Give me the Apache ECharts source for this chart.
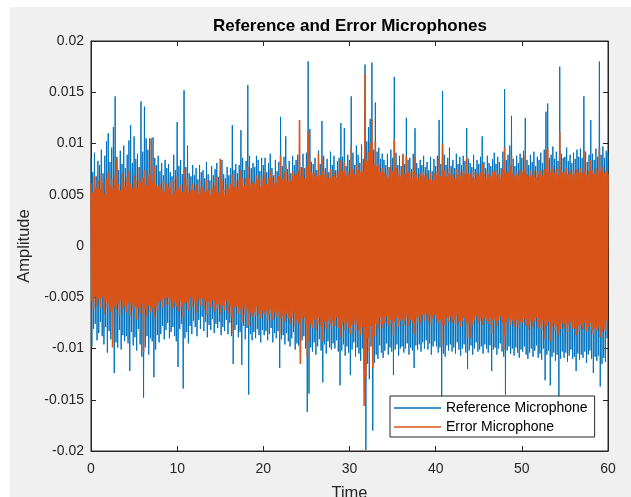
<!DOCTYPE html>
<html>
<head>
<meta charset="utf-8">
<script src="https://cdn.jsdelivr.net/npm/echarts@6/dist/echarts.min.js"></script>
<style>
  html, body { margin: 0; padding: 0; background: #ffffff; }
  #chart { width: 631px; height: 497px; }
</style>
</head>
<body>
<div id="chart"></div>
<script>
// Sample spacing of both recordings, in seconds
const TIME_STEP = 0.1;

// Microphone amplitudes, stored in thousandths (x 1e-3), one row per second
const referenceMic = [
  8.6,-9.8,7.2,-8.1,9.1,-7.6,6.8,-9.2,8.3,-8.5,
  7.9,-7.4,9.4,-8.8,7.1,-9.6,8.8,-7.9,10.2,-10.4,
  11.0,-8.3,8.2,-9.1,9.6,-8.6,11.6,-12.4,14.6,-9.4,
  8.7,-9.9,7.4,-8.2,9.3,-10.1,8.0,-8.7,9.8,-9.3,
  7.6,-8.8,8.9,-9.5,10.3,-12.2,11.8,-8.4,8.1,-9.7,
  10.7,-8.9,8.5,-10.2,9.0,-8.1,7.7,-9.6,14.1,-10.8,
  9.2,-14.8,13.6,-9.9,10.5,-8.8,9.4,-10.6,10.5,-9.0,
  10.4,-9.3,10.6,-12.8,8.6,-10.1,7.9,-8.7,8.8,-9.4,
  7.3,-8.6,8.1,-7.8,6.9,-9.1,8.4,-8.2,7.6,-7.5,
  8.0,-9.0,7.2,-8.4,6.8,-7.9,8.9,-8.8,7.4,-9.3,
  12.1,-11.8,7.8,-8.1,8.4,-7.6,7.0,-13.9,15.2,-9.0,
  7.7,-8.4,9.8,-9.5,7.1,-7.8,6.8,-8.6,7.9,-7.3,
  6.9,-7.9,7.6,-8.8,6.5,-7.2,7.9,-8.1,7.2,-6.9,
  7.4,-8.3,6.6,-7.4,8.2,-8.9,7.0,-7.7,6.4,-8.2,
  7.8,-7.1,6.9,-8.5,7.5,-7.6,8.1,-8.0,6.7,-7.4,
  7.2,-8.7,8.4,-7.9,7.0,-8.3,6.6,-7.2,7.7,-8.6,
  6.9,-7.5,7.6,-8.8,11.8,-11.5,7.4,-8.2,8.0,-7.7,
  7.1,-8.9,7.9,-8.4,11.3,-11.6,8.6,-7.8,7.4,-9.1,
  8.3,-8.0,15.7,-14.5,8.8,-8.6,7.6,-9.2,8.1,-8.4,
  7.7,-9.0,8.8,-8.1,8.4,-8.7,7.3,-9.4,8.6,-8.2,
  7.9,-8.7,8.6,-8.3,7.2,-9.2,8.1,-8.6,9.0,-8.0,
  7.6,-9.4,6.9,-8.5,8.4,-9.0,7.3,-8.3,8.2,-11.9,
  12.6,-9.1,7.8,-8.7,8.7,-9.6,10.7,-8.5,7.5,-9.3,
  8.3,-9.8,7.1,-9.0,8.8,-8.4,7.9,-10.1,8.4,-9.5,
  8.9,-9.7,9.5,-10.4,7.7,-9.2,9.0,-8.8,7.6,-10.0,
  9.1,-16.2,18.0,-14.4,11.4,-9.9,8.2,-10.3,8.0,-9.4,
  8.6,-10.6,7.4,-9.8,9.3,-9.1,8.0,-10.2,12.2,-13.3,
  8.8,-9.6,7.6,-10.5,8.5,-9.3,7.2,-9.9,9.2,-10.1,
  7.9,-9.5,8.8,-10.0,7.4,-9.2,8.3,-10.3,8.6,-13.6,
  12.0,-10.2,8.7,-9.6,11.5,-10.7,7.8,-9.8,8.9,-10.4,
  8.4,-12.6,14.6,-10.1,9.1,-9.4,7.9,-10.8,9.8,-9.9,
  8.9,-10.5,8.1,-11.2,9.9,-10.0,8.5,-12.1,17.7,-19.9,
  10.2,-11.5,11.6,-13.0,12.4,-9.8,17.9,-18.0,9.4,-11.4,
  14.0,-10.6,9.2,-11.0,9.6,-9.7,8.5,-10.4,9.0,-10.9,
  8.4,-10.2,7.9,-9.5,9.0,-10.6,7.7,-9.9,9.4,-10.3,
  8.6,-12.6,16.5,-10.1,9.1,-9.6,7.9,-10.7,8.8,-10.0,
  7.8,-9.8,8.9,-10.4,8.0,-10.0,12.5,-9.5,8.4,-10.6,
  8.6,-9.9,7.5,-10.2,9.0,-11.9,11.5,-9.7,8.1,-10.1,
  7.6,-9.6,8.4,-10.3,7.9,-9.4,8.8,-10.0,7.7,-9.2,
  8.2,-10.1,7.4,-9.5,8.7,-10.6,7.3,-9.8,8.5,-9.3,
  7.8,-9.8,8.8,-10.4,12.3,-9.9,8.0,-14.7,15.1,-10.5,
  8.9,-10.8,7.9,-9.7,8.6,-10.2,9.6,-9.6,7.8,-10.3,
  8.4,-9.9,7.6,-10.5,9.0,-9.4,8.0,-10.1,8.7,-10.7,
  7.9,-10.0,8.8,-9.6,8.3,-10.4,11.5,-12.0,8.5,-10.2,
  8.1,-9.7,7.7,-10.6,8.9,-10.0,7.5,-9.4,8.4,-10.3,
  8.0,-10.1,8.7,-9.8,10.7,-10.5,8.2,-9.6,7.6,-10.0,
  8.8,-10.4,8.1,-9.7,7.8,-12.2,8.5,-10.1,9.1,-9.9,
  8.0,-10.6,8.7,-10.0,8.2,-9.5,7.6,-10.3,9.2,-10.8,
  15.3,-14.5,8.4,-10.2,8.9,-9.8,9.8,-10.5,12.7,-10.0,
  8.5,-10.7,7.8,-9.9,8.8,-10.4,8.1,-10.9,9.0,-10.1,
  8.6,-10.3,9.3,-9.8,12.5,-10.6,8.4,-11.0,7.9,-10.4,
  8.9,-10.0,8.2,-10.8,9.2,-10.2,7.8,-9.7,8.7,-10.9,
  8.4,-10.5,9.1,-11.1,8.1,-10.0,9.4,-13.1,13.1,-10.6,
  13.9,-10.2,8.6,-13.6,8.9,-10.8,9.7,-10.4,8.5,-11.2,
  9.2,-10.6,8.3,-14.8,17.5,-11.0,9.0,-10.3,8.6,-10.9,
  8.7,-10.4,9.6,-11.3,8.3,-10.7,8.9,-10.1,8.1,-11.0,
  9.1,-10.8,8.5,-12.2,9.4,-10.5,8.7,-11.1,9.5,-10.6,
  8.6,-10.9,14.6,-10.3,9.2,-11.4,8.2,-10.6,8.9,-10.2,
  12.3,-11.0,9.0,-12.4,8.4,-10.8,9.5,-11.2,8.7,-10.7,
  18.0,-13.7,8.9,-11.5,9.7,-10.9,8.6,-11.3,9.3,-9.0,
  9.1
];

const errorMic = [
  6.1,-5.4,5.2,-6.3,6.8,-4.9,5.7,-5.8,6.4,-5.2,
  5.5,-6.1,7.0,-5.0,6.2,-6.6,5.1,-5.5,6.6,-6.0,
  7.2,-5.7,5.9,-6.4,6.5,-9.9,5.6,-5.9,6.9,-6.2,
  8.5,-5.6,6.0,-6.8,5.4,-5.3,7.1,-6.1,6.3,-5.8,
  5.8,-6.5,6.7,-5.5,7.3,-6.9,6.1,-5.7,5.6,-6.3,
  6.9,-5.9,6.4,-7.2,5.7,-6.0,7.6,-6.6,6.2,-5.6,
  6.6,-10.4,7.4,-6.2,5.9,-6.8,6.8,-5.8,7.0,-6.5,
  10.5,-6.1,6.3,-7.0,7.8,-5.9,6.0,-6.4,5.8,-5.5,
  6.0,-5.3,5.5,-6.0,6.4,-5.1,5.2,-5.7,6.1,-5.0,
  5.7,-5.8,6.2,-5.2,5.0,-6.1,6.5,-5.5,5.4,-5.9,
  6.8,-6.4,5.6,-5.4,6.0,-5.9,5.3,-7.0,7.5,-5.6,
  5.9,-5.5,6.6,-6.3,5.2,-5.0,5.5,-6.0,6.1,-5.3,
  5.4,-5.6,6.0,-6.5,5.1,-5.2,6.3,-5.8,5.6,-5.1,
  5.8,-6.2,5.3,-5.4,6.5,-6.7,5.5,-5.5,5.0,-6.0,
  6.2,-5.3,5.6,-6.4,5.9,-5.7,6.7,-6.1,5.2,-5.6,
  8.5,-6.6,6.4,-5.8,5.5,-6.3,5.1,-5.4,6.0,-6.5,
  5.6,-5.7,6.1,-6.9,7.0,-8.5,5.8,-6.0,6.4,-5.9,
  5.7,-6.6,6.5,-6.2,7.4,-7.5,6.6,-5.8,5.9,-6.7,
  6.6,-6.1,7.8,-7.8,6.7,-6.5,6.0,-6.9,6.3,-6.4,
  6.1,-6.8,6.9,-6.0,6.5,-6.6,5.8,-7.1,6.8,-6.3,
  6.4,-6.7,7.1,-6.4,6.0,-7.3,6.6,-6.6,7.4,-6.2,
  6.7,-7.2,6.1,-6.5,7.0,-6.9,6.2,-6.4,6.8,-8.6,
  8.8,-7.0,6.5,-6.8,7.2,-7.4,7.9,-6.6,6.3,-7.1,
  7.0,-7.6,6.4,-7.0,7.3,-6.5,6.9,-7.8,7.1,-7.3,
  7.4,-7.5,12.3,-11.5,6.8,-7.1,7.6,-6.9,6.6,-7.7,
  7.7,-10.8,11.2,-9.4,8.3,-7.6,7.2,-8.0,7.0,-7.2,
  7.2,-8.2,6.8,-7.6,9.0,-7.0,6.9,-7.9,8.6,-9.3,
  7.3,-7.4,6.9,-8.1,7.1,-7.2,6.6,-7.6,7.5,-7.9,
  6.8,-7.3,7.2,-7.8,6.7,-7.0,7.0,-8.0,7.4,-8.9,
  8.4,-7.8,7.3,-7.4,8.2,-8.3,6.9,-7.5,7.3,-8.0,
  7.1,-8.6,9.6,-7.7,7.5,-7.3,7.0,-8.4,7.9,-7.6,
  7.4,-8.2,7.2,-8.7,8.1,-7.9,7.3,-15.6,16.8,-12.8,
  8.3,-9.0,9.2,-10.3,10.1,-7.8,12.4,-11.9,7.9,-8.8,
  10.2,-7.6,7.7,-8.1,8.0,-7.0,7.2,-7.7,7.6,-8.0,
  7.1,-7.5,6.9,-6.9,7.5,-7.8,6.7,-7.2,7.8,-7.6,
  7.3,-8.7,10.4,-7.4,7.6,-7.0,6.9,-7.9,7.4,-7.3,
  6.8,-7.1,9.0,-7.7,7.0,-7.3,8.8,-6.9,7.2,-7.8,
  7.2,-7.2,6.7,-7.5,7.4,-8.6,8.6,-7.0,7.0,-7.4,
  6.6,-6.9,7.1,-7.6,6.9,-6.7,7.3,-7.3,6.8,-6.6,
  7.0,-7.4,6.5,-6.8,7.2,-7.7,6.4,-7.1,7.1,-6.7,
  6.9,-7.1,7.3,-7.5,8.7,-7.2,6.8,-9.8,9.9,-7.7,
  7.4,-7.8,6.8,-7.0,7.1,-7.4,7.6,-6.9,6.9,-7.5,
  7.0,-7.2,6.6,-7.7,7.5,-6.8,6.9,-7.4,7.2,-7.9,
  6.8,-7.3,7.4,-7.0,7.0,-7.6,8.6,-8.9,7.1,-7.4,
  7.0,-9.0,6.7,-7.7,7.3,-7.2,6.6,-6.8,7.1,-7.5,
  6.9,-7.3,7.2,-7.1,8.0,-7.7,7.0,-7.0,6.7,-7.3,
  7.3,-7.6,7.0,-7.0,6.8,-8.6,7.2,-7.3,7.4,-7.2,
  6.9,-7.8,7.2,-7.3,7.0,-6.9,6.7,-7.5,7.5,-10.1,
  9.6,-8.7,7.1,-7.4,7.3,-7.1,7.8,-7.7,8.8,-7.3,
  7.1,-7.9,6.8,-7.2,7.2,-7.6,6.9,-8.0,7.4,-7.4,
  7.2,-7.5,7.5,-7.1,8.9,-7.8,7.0,-8.1,6.8,-7.6,
  7.3,-7.3,6.9,-7.9,7.4,-7.4,6.7,-7.0,7.2,-8.0,
  7.0,-7.7,7.4,-8.2,6.9,-7.3,7.5,-9.1,9.4,-7.8,
  9.5,-7.4,7.2,-9.3,7.3,-7.9,7.7,-7.6,7.1,-8.3,
  7.5,-7.8,6.9,-8.7,11.2,-8.1,7.4,-7.5,7.2,-8.0,
  7.2,-7.6,7.6,-8.4,7.0,-7.8,7.3,-7.4,6.9,-8.1,
  7.4,-8.0,7.1,-8.7,7.5,-7.7,7.2,-8.2,7.6,-7.8,
  7.1,-8.1,9.3,-7.5,7.4,-8.4,6.9,-7.9,7.3,-7.5,
  8.4,-8.2,7.4,-8.6,7.0,-8.0,7.6,-8.3,7.2,-7.9,
  9.6,-8.9,7.3,-8.4,7.7,-8.1,7.1,-8.3,7.4,-7.3,
  7.0
];

const seriesNames = ['Reference Microphone', 'Error Microphone'];
const seriesColors = ['#0072BD', '#D95319'];
const yTickLabels = ['-0.02', '-0.015', '-0.01', '-0.005', '0', '0.005', '0.01', '0.015', '0.02'];
const xRange = [0, 60];
const yRange = [-0.02, 0.02];

function toPoints(values) {
  return values.map((v, i) => [Math.round(i * TIME_STEP * 10) / 10, v / 1000]);
}

const AXIS_COLOR = '#262626';
const FONT = '"Liberation Sans", Arial, sans-serif';

const chart = echarts.init(document.getElementById('chart'), null, { renderer: 'canvas' });

const tickCommon = { show: true, inside: true, length: 5, lineStyle: { color: AXIS_COLOR, width: 1 } };
const lineCommon = { show: true, onZero: false, lineStyle: { color: AXIS_COLOR, width: 1 } };

chart.setOption({
  animation: false,
  backgroundColor: 'transparent',
  graphic: [
    {
      type: 'rect', z: -10, silent: true,
      shape: { x: 10, y: 7, width: 621, height: 490 },
      style: { fill: '#f0f0f0' }
    },
    {
      type: 'text', silent: true,
      style: {
        x: 350, y: 26, text: 'Reference and Error Microphones',
        font: 'bold 17px ' + FONT, fill: '#000000',
        textAlign: 'center', textVerticalAlign: 'middle'
      }
    }
  ],
  grid: {
    left: 91, top: 41, width: 517, height: 410,
    containLabel: false, outerBoundsMode: 'none',
    show: true, backgroundColor: '#ffffff', borderColor: AXIS_COLOR, borderWidth: 1
  },
  legend: {
    data: seriesNames,
    orient: 'vertical',
    left: 390, top: 396,
    backgroundColor: '#ffffff',
    borderColor: AXIS_COLOR, borderWidth: 1, borderRadius: 0,
    padding: [3, 7, 1, 4],
    itemWidth: 47, itemHeight: 1.5, itemGap: 1, itemTextGap: 4,
    icon: 'rect',
    textStyle: { fontFamily: FONT, fontSize: 14, lineHeight: 18, color: '#000000' }
  },
  xAxis: [
    {
      type: 'value', min: xRange[0], max: xRange[1], interval: 10,
      name: 'Time', nameLocation: 'middle', nameGap: 34,
      nameTextStyle: { fontFamily: FONT, fontSize: 16.5, color: AXIS_COLOR },
      axisLine: lineCommon, axisTick: tickCommon, splitLine: { show: false },
      axisLabel: { fontFamily: FONT, fontSize: 14, color: AXIS_COLOR, margin: 11 }
    },
    {
      type: 'value', position: 'top', min: xRange[0], max: xRange[1], interval: 10,
      axisLine: lineCommon, axisTick: tickCommon, splitLine: { show: false },
      axisLabel: { show: false }
    }
  ],
  yAxis: [
    {
      type: 'value', min: yRange[0], max: yRange[1], interval: 0.005,
      name: 'Amplitude', nameLocation: 'middle', nameGap: 58, nameRotate: 90,
      nameTextStyle: { fontFamily: FONT, fontSize: 16.5, color: AXIS_COLOR },
      axisLine: lineCommon, axisTick: tickCommon, splitLine: { show: false },
      axisLabel: {
        fontFamily: FONT, fontSize: 14, color: AXIS_COLOR, margin: 7,
        formatter: v => yTickLabels[Math.round((v - yRange[0]) / 0.005)]
      }
    },
    {
      type: 'value', position: 'right', min: yRange[0], max: yRange[1], interval: 0.005,
      axisLine: lineCommon, axisTick: tickCommon, splitLine: { show: false },
      axisLabel: { show: false }
    }
  ],
  series: [
    {
      name: seriesNames[0], type: 'line', xAxisIndex: 0, yAxisIndex: 0,
      data: toPoints(referenceMic), showSymbol: false, symbol: 'none',
      lineStyle: { color: seriesColors[0], width: 1 }, itemStyle: { color: seriesColors[0] },
      z: 2
    },
    {
      name: seriesNames[1], type: 'line', xAxisIndex: 0, yAxisIndex: 0,
      data: toPoints(errorMic), showSymbol: false, symbol: 'none',
      lineStyle: { color: seriesColors[1], width: 1.6 }, itemStyle: { color: seriesColors[1] },
      z: 3
    }
  ]
});
</script>
</body>
</html>
